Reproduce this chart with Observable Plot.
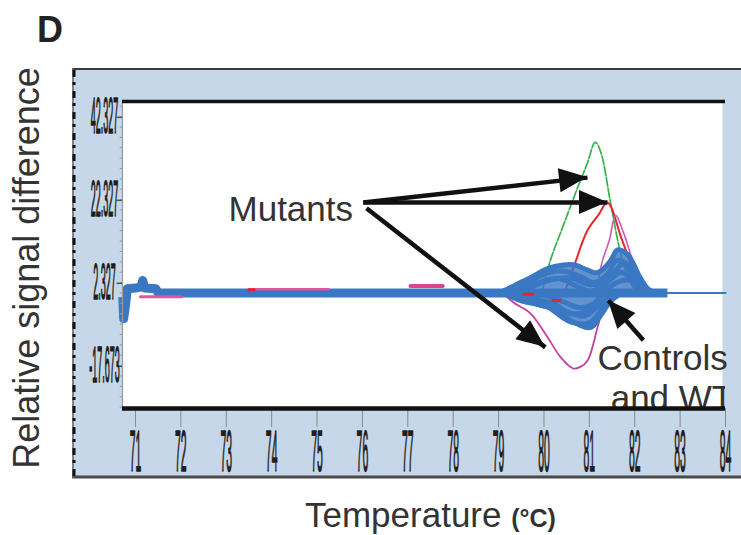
<!DOCTYPE html>
<html><head><meta charset="utf-8">
<script src="https://cdn.jsdelivr.net/npm/d3@7"></script>
<script src="https://cdn.jsdelivr.net/npm/@observablehq/plot@0.6"></script>
<style>body{margin:0;background:#fff}#chart svg{display:block}</style>
</head><body><div id="chart"></div>
<script>
// ---- data ----
const xTicks = [71,72,73,74,75,76,77,78,79,80,81,82,83,84];
const xTickLabels = ["71","72","73","74","75","76","77","78","79","80","81","82","83","84"];
const yTicks = [42.327, 22.327, 2.327, -17.673];
const yTickLabels = ["42.327","22.327","2.327","-17.673"];

// [temperature °C, relative signal difference]
const greenMutant = [[79.95,0],[80.14,7.8],[80.4,15.5],[80.7,24.2],[80.95,31.1],[81.13,36.3],[81.25,34],[81.47,21.6],[81.69,9.5],[81.88,3],[82.05,0]];
const redMutant = [[80.45,0],[80.65,6.1],[80.96,15.1],[81.2,18.8],[81.4,21.8],[81.71,13.1],[81.95,6.1],[82.19,0.6],[82.3,0]];
const magentaUpper = [[81.14,0],[81.29,7.8],[81.44,12.7],[81.58,18.7],[81.76,14.3],[81.98,7],[82.19,1.3],[82.3,0]];
const magentaLower = [[79.1,0],[79.33,-2.3],[79.7,-4.9],[80.03,-9.8],[80.37,-15.5],[80.65,-18.2],[80.8,-17.8],[80.96,-16.3],[81.18,-8.3],[81.29,-3.7],[81.4,0]];

// envelope of the controls/WT bundle: [temperature, lowest, highest]
const controlsBand = [[79.05,0,0.3],[79.3,-1,1.5],[79.7,-2,3.4],[80.14,-3.6,5.6],[80.65,-6.6,6.4],[81.0,-7.8,5],[81.25,-5.2,5],[81.47,-2,7.4],[81.62,-0.8,9.8],[81.84,0,8.8],[82.12,0,3.4],[82.35,0,0.3]];
const controlA = [[79.0,0],[79.26,1.3],[79.7,3.7],[80.14,6.1],[80.65,6.8],[80.9,5.8],[81.18,4.9],[81.47,7.8],[81.62,10.4],[81.84,9.3],[82.12,3.7],[82.28,1.1],[82.45,0]];
const controlB = [[79.1,0],[79.48,-1.8],[80.21,-3.8],[80.65,-7],[81.03,-8.3],[81.25,-5.4],[81.47,-2],[81.7,0]];
const controlC = [[79.3,0],[79.6,2],[80.0,4.5],[80.4,5.3],[80.8,4],[81.1,2.5],[81.4,4.5],[81.6,7.8],[81.9,6.5],[82.2,1],[82.35,0]];
const controlD = [[79.4,0],[79.8,-1.5],[80.2,-2.5],[80.5,-4.5],[80.9,-5.5],[81.2,-3],[81.5,-0.8],[81.8,0]];
const controlG = [[79.2,0],[79.6,1],[80.1,3],[80.6,3.6],[81.0,2],[81.4,2.8],[81.7,5],[82.0,2.2],[82.2,0]];
const controlH = [[79.3,0],[79.8,-2.5],[80.3,-4],[80.7,-5],[81.0,-4.2],[81.3,-2],[81.6,0]];
const wtE = [[79.5,0],[79.9,2.5],[80.3,3.5],[80.7,1.8],[81.0,0.5],[81.3,1.5],[81.55,5],[81.75,7],[82.0,3],[82.2,0]];
const wtF = [[79.6,0],[80.0,-0.5],[80.4,-2],[80.8,-3.5],[81.1,-2.5],[81.35,0.5],[81.6,2.5],[81.9,3],[82.1,0]];
const wtI = [[79.7,0],[80.2,-4.2],[80.6,-7],[81.0,-7.2],[81.3,-3.4],[81.55,0]];

const blueBase = [[70.72,-1],[70.74,-6.2],[70.78,-3],[70.82,1],[71.0,1.2],[71.12,1.5],[71.16,3],[71.2,1.2],[71.45,1],[71.5,0],[82.72,0]];
const blueTail = [[82.72,0],[84,0]];
const magentaBase1 = [[71.11,-0.9],[72.03,-0.9]];
const magentaBase2 = [[73.5,0.9],[75.25,0.9]];
const magentaBase3 = [[77.06,1.7],[77.77,1.7]];
const redBase1 = [[73.5,0.8],[73.62,0.8]];
const redBase2 = [[79.55,-0.3],[79.75,-0.3]];
const redBase3 = [[80.2,-1.8],[80.35,-1.8]];

const mutantArrows = [
  {x1:76.02, y1:21.8, x2:80.96, y2:27.8},
  {x1:76.02, y1:21.8, x2:81.40, y2:21.8},
  {x1:76.09, y1:20.4, x2:80.03, y2:-13.1}
];
const controlArrow = [{x1:82.19, y1:-11.4, x2:81.42, y2:-1.8}];
const notes = [
  {x:73.05, y:20.0, text:"Mutants"},
  {x:81.18, y:-15.9, text:"Controls"}
];
const clippedNote = [{x:81.47, y:-25.6, text:"and WT"}];

const X0 = 70.714, X1 = 84, Y0 = -27.83, Y1 = 46.14;
const BLUE = "#3b78c3";
const FONT = "Liberation Sans, Arial, sans-serif";
const px = d => d[0], py = d => d[1];

const line = (data, o) => Plot.line(data, {x: px, y: py, strokeLinejoin: "round", strokeLinecap: "round", ...o});
const blob = (data, dash) => line(data, {stroke: BLUE, strokeWidth: 5, strokeDasharray: dash, curve: "catmull-rom"});

const chart = Plot.plot({
  width: 741, height: 535,
  marginLeft: 122, marginRight: 16, marginTop: 101, marginBottom: 127,
  x: {domain: [X0, X1], axis: null},
  y: {domain: [Y0, Y1], axis: null},
  style: {background: "transparent"},
  marks: [
    Plot.frame({fill: "white", stroke: "none", insetRight: 3}),
    line(magentaLower, {stroke: "#c23fa3", strokeWidth: 1.8, curve: "catmull-rom"}),
    line(greenMutant, {stroke: "#33b24a", strokeWidth: 1.7, strokeDasharray: "9,2", curve: "catmull-rom"}),
    line(redMutant, {stroke: "#e5262b", strokeWidth: 2, curve: "catmull-rom"}),
    line(magentaUpper, {stroke: "#d25ab4", strokeWidth: 1.6, curve: "catmull-rom"}),
    Plot.areaY(controlsBand, {x: d => d[0], y1: d => d[1], y2: d => d[2], fill: BLUE, fillOpacity: 0.8, curve: "catmull-rom"}),
    line(blueBase, {stroke: BLUE, strokeWidth: 9, strokeLinecap: "butt"}),
    line(blueTail, {stroke: BLUE, strokeWidth: 2}),
    blob(controlA, "8,1.5"),
    blob(controlB, "8,1.5"),
    blob(controlC, "6,1.5"),
    blob(controlD, "6,1.5"),
    blob(controlG, "7,2"),
    blob(controlH, "7,2"),
    blob(wtE, "6,2"),
    blob(wtF, "6,2"),
    blob(wtI, "9,2"),
    line(magentaBase1, {stroke: "#e0559e", strokeWidth: 3}),
    line(magentaBase2, {stroke: "#e0559e", strokeWidth: 2.5}),
    line(magentaBase3, {stroke: "#d9468f", strokeWidth: 4}),
    line(redBase1, {stroke: "#e5262b", strokeWidth: 3}),
    line(redBase2, {stroke: "#e5262b", strokeWidth: 3}),
    line(redBase3, {stroke: "#e5262b", strokeWidth: 3}),
    // annotations
    Plot.text(notes, {x: "x", y: "y", text: "text", textAnchor: "start", fontSize: 35, fontFamily: FONT, fill: "#333"}),
    Plot.text(clippedNote, {x: "x", y: "y", text: "text", textAnchor: "start", fontSize: 35, fontFamily: FONT, fill: "#333", clip: true}),
    Plot.link(mutantArrows, {x1: "x1", y1: "y1", x2: "x2", y2: "y2", stroke: "#111", strokeWidth: 4.5}),
    Plot.link(controlArrow, {x1: "x1", y1: "y1", x2: "x2", y2: "y2", stroke: "#111", strokeWidth: 4.5}),
    // axes
    Plot.ruleX([X0], {stroke: "#9a9a9a", strokeWidth: 1.2}),
    Plot.ruleY(d3.range(-27.5, 46, 2.5), {x1: X0 - 0.05, x2: X0, stroke: "#9a9a9a"}),
    Plot.ruleY(yTicks, {x1: X0 - 0.12, x2: X0, stroke: "#555", strokeWidth: 1.5}),
    Plot.ruleX(xTicks, {y1: Y0, y2: Y0 - 4.6, stroke: "#8a8a8a", strokeWidth: 1}),
    Plot.ruleY([Y1], {stroke: "#111", strokeWidth: 3.5}),
    Plot.ruleY([Y0], {stroke: "#111", strokeWidth: 4.5}),
    Plot.text(yTicks, {x: X0, y: d => d, text: (d, i) => yTickLabels[i], dx: -18, textAnchor: "middle", fontSize: 50, fontFamily: FONT, fill: "#1e1e1e", stroke: "#1e1e1e", strokeWidth: 1.5}),
    Plot.text(xTicks, {x: d => d, y: Y0, text: (d, i) => xTickLabels[i], dy: 44, textAnchor: "middle", fontSize: 58, fontFamily: FONT, fill: "#1e1e1e", stroke: "#1e1e1e", strokeWidth: 1.5})
  ]
});

document.getElementById("chart").appendChild(chart);
const svg = d3.select(chart);
const sx = chart.scale("x"), sy = chart.scale("y");

// condensed tick labels
const yLab = new Set(yTickLabels), xLab = new Set(xTickLabels);
svg.selectAll("text").each(function() {
  const t = this.textContent;
  let s = null;
  if (yLab.has(t)) s = 0.18; else if (xLab.has(t)) s = 0.18;
  if (s == null) return;
  const b = this.getBBox();
  const cx = b.x + b.width / 2, cy = b.y + b.height / 2;
  const prev = this.getAttribute("transform") || "";
  this.setAttribute("transform", `${prev} translate(${cx},${cy}) scale(${s},1) translate(${-cx},${-cy})`);
});

// panel behind the plot
const bg = svg.insert("g", ":first-child");
bg.append("rect").attr("x", 72).attr("y", 68).attr("width", 680).attr("height", 410).attr("fill", "#c5d7e9");
bg.append("line").attr("x1", 72).attr("x2", 741).attr("y1", 69).attr("y2", 69).attr("stroke", "#3a3a3a").attr("stroke-width", 2);
bg.append("line").attr("x1", 72).attr("x2", 741).attr("y1", 477).attr("y2", 477).attr("stroke", "#4a4a4a").attr("stroke-width", 3);
bg.append("line").attr("x1", 73).attr("x2", 73).attr("y1", 68).attr("y2", 478).attr("stroke", "#666").attr("stroke-width", 1.5);
bg.append("line").attr("x1", 74).attr("x2", 74).attr("y1", 70).attr("y2", 476).attr("stroke", "#111").attr("stroke-width", 3).attr("stroke-dasharray", "7,5,3,6");

// filled arrow heads
function head(a, L, W) {
  const x1 = sx.apply(a.x1), y1 = sy.apply(a.y1), x2 = sx.apply(a.x2), y2 = sy.apply(a.y2);
  const dx = x2 - x1, dy = y2 - y1, len = Math.hypot(dx, dy);
  const ux = dx / len, uy = dy / len, nx = -uy, ny = ux;
  const bx = x2 - ux * L, by = y2 - uy * L;
  return [[x2, y2], [bx + nx * W / 2, by + ny * W / 2], [bx - nx * W / 2, by - ny * W / 2]].map(p => p.join(",")).join(" ");
}
const heads = svg.append("g");
for (const a of mutantArrows.concat(controlArrow)) {
  heads.append("polygon").attr("points", head(a, 28, 24)).attr("fill", "#111");
}

// titles
svg.append("text").attr("x", 37).attr("y", 42).attr("text-anchor", "start").attr("font-family", FONT).attr("font-weight", "bold").attr("font-size", 36).attr("fill", "#222").text("D");
svg.append("text").attr("transform", "translate(39,268) rotate(-90)").attr("text-anchor", "middle")
  .attr("font-family", FONT).attr("font-size", 36).attr("fill", "#333").text("Relative signal difference");
const xt = svg.append("text").attr("x", 305).attr("y", 527).attr("text-anchor", "start").attr("font-family", FONT).attr("font-size", 35).attr("fill", "#333");
xt.append("tspan").text("Temperature ");
xt.append("tspan").attr("font-weight", "bold").attr("font-size", 25).text("(°C)");
</script>
</body></html>
